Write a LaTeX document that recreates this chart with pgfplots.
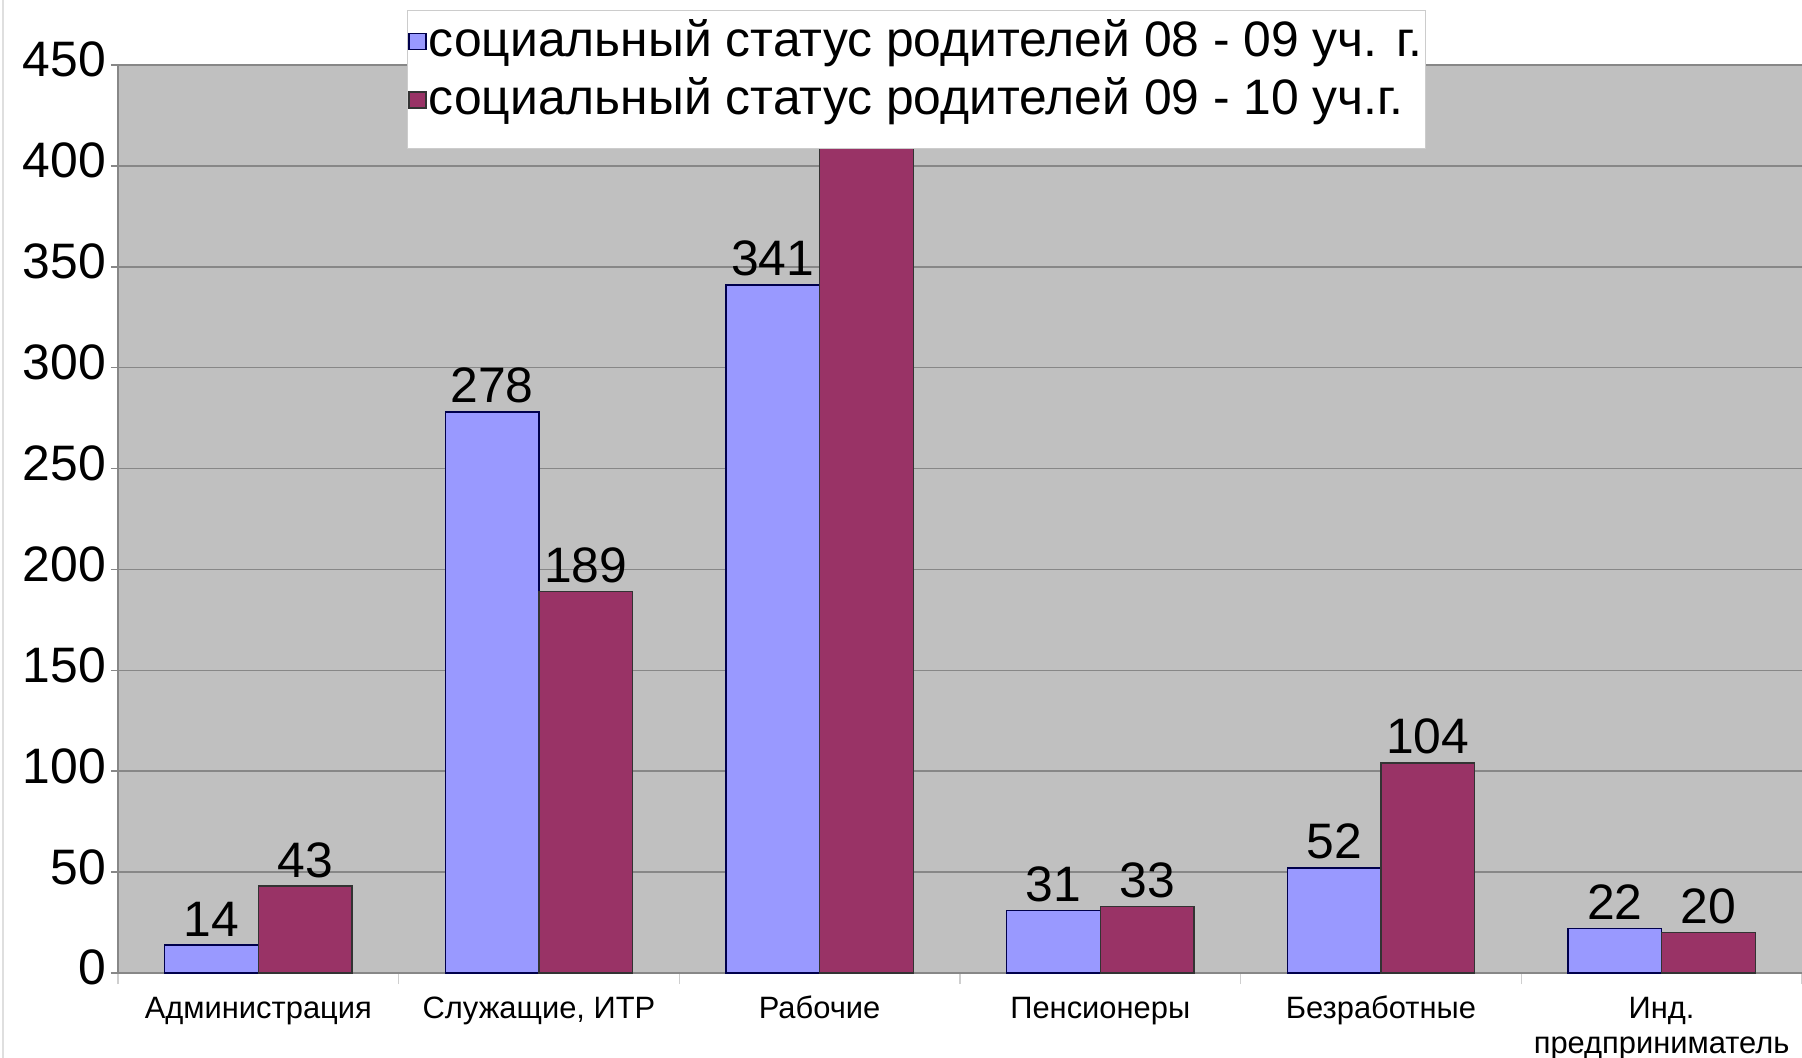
\documentclass[border=0pt]{standalone}
\usepackage{fontspec}
\setmainfont{Liberation Sans}
\usepackage{pgfplots}
\pgfplotsset{compat=1.18}
\definecolor{barblue}{HTML}{9999FF}
\definecolor{barred}{HTML}{993366}
\definecolor{plotgray}{HTML}{C0C0C0}
\definecolor{gridgray}{HTML}{878787}
\pgfplotsset{
  legA/.style={legend image code/.code={\draw[##1, line width=1.2bp] (0bp,7bp) rectangle (17bp,23bp);}},
  legB/.style={legend image code/.code={\draw[##1, line width=1.2bp] (0bp,7bp) rectangle (17bp,23bp); \path[draw=none, fill=none] (0bp,-27bp) rectangle (1bp,-26bp);}},
}
\begin{document}
\begin{tikzpicture}
\path[use as bounding box] (-118bp,-85bp) rectangle (1684bp,973bp);
\fill[white] (-118bp,-85bp) rectangle (1684bp,973bp);
\draw[gray!25, line width=2bp] (-115bp,-85bp) -- (-115bp,973bp);
\begin{axis}[
  at={(0,0)}, anchor=south west, scale only axis,
  width=1684bp, height=908bp,
  ymin=0, ymax=450, ytick={0,50,...,450},
  xmin=-0.5, xmax=5.5,
  xtick={0,1,2,3,4,5},
  xticklabels={Администрация, {Служащие, ИТР}, Рабочие, Пенсионеры, Безработные, {Инд.\\предприниматель}},
  major x tick style={draw=none},
  minor xtick={-0.5,0.5,1.5,2.5,3.5,4.5,5.5},
  minor x tick style={gridgray!40, line width=1.2bp},
  minor tick length=11bp,
  major tick length=7bp,
  tick align=outside,
  y tick style={gridgray, line width=1.5bp},
  axis x line*=bottom, axis y line*=left,
  axis line style={-, gridgray, line width=2bp},
  ymajorgrids, grid style={gridgray, line width=1.5bp},
  axis background/.style={fill=plotgray},
  ybar=0pt, bar width=93.7bp,
  nodes near coords,
  nodes near coords style={font=\fontsize{50}{60}\selectfont, inner sep=0pt, yshift=8bp, anchor=south, text=black},
  /pgf/number format/assume math mode=true,
  yticklabel style={font=\fontsize{50}{60}\selectfont, inner sep=2bp, xshift=-3bp},
  xticklabel style={font=\fontsize{31}{35}\selectfont, align=center, inner sep=0pt, yshift=-14bp},
  typeset ticklabels with strut,
  legend cell align=left,
  legend style={at={(0.1716,1.0606)}, anchor=north west, draw=gray!40, line width=1bp, fill=white,
    font=\fontsize{50}{60}\selectfont, inner xsep=1bp, inner ysep=7bp, row sep=16bp,
    nodes={inner sep=2bp}, cells={anchor=base west}},
]
\addplot[fill=barblue, draw=black!70!blue, line width=1.5bp, legA]
  coordinates {(0,14) (1,278) (2,341) (3,31) (4,52) (5,22)};
\addplot[fill=barred, draw=black!80, line width=1.5bp, legB]
  coordinates {(0,43) (1,189) (2,430) (3,33) (4,104) (5,20)};
\addlegendentry{социальный статус родителей 08 - 09 уч. г.}
\addlegendentry{социальный статус родителей 09 - 10 уч.г.}
\end{axis}
\end{tikzpicture}
\end{document}
